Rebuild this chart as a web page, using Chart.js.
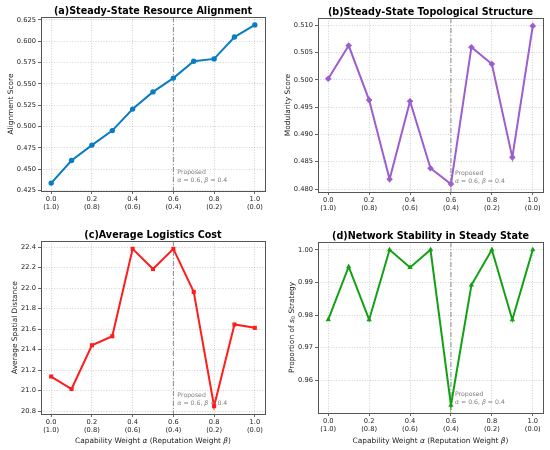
<!DOCTYPE html>
<html><head><meta charset="utf-8">
<script src="https://cdn.jsdelivr.net/npm/chart.js@4.4.1/dist/chart.umd.min.js"></script>
<style>
html,body{margin:0;padding:0;background:#fff;}
#wrap{position:relative;width:550px;height:450px;background:#fff;}
canvas{position:absolute;}
</style></head><body>
<div id="wrap">
<canvas id="ca" width="275" height="225" style="left:0px;top:0px;width:275px;height:225px"></canvas>
<canvas id="cb" width="275" height="225" style="left:275px;top:0px;width:275px;height:225px"></canvas>
<canvas id="cc" width="275" height="225" style="left:0px;top:225px;width:275px;height:225px"></canvas>
<canvas id="cd" width="275" height="225" style="left:275px;top:225px;width:275px;height:225px"></canvas>
</div>
<script>
// ---- data ----
const alphaValues = [0.0, 0.1, 0.2, 0.3, 0.4, 0.5, 0.6, 0.7, 0.8, 0.9, 1.0];
const xTickValues = [0.0, 0.2, 0.4, 0.6, 0.8, 1.0];
const xTickAlpha = ['0.0', '0.2', '0.4', '0.6', '0.8', '1.0'];
const xTickBeta = ['(1.0)', '(0.8)', '(0.6)', '(0.4)', '(0.2)', '(0.0)'];
const alignmentScore = [0.4337, 0.4601, 0.4782, 0.4952, 0.5204, 0.5405, 0.5567, 0.5764, 0.5792, 0.6048, 0.6190];
const modularityScore = [0.5002, 0.5063, 0.4963, 0.4818, 0.4961, 0.4838, 0.4809, 0.5060, 0.5029, 0.4858, 0.5099];
const spatialDistance = [21.138, 21.016, 21.443, 21.531, 22.384, 22.187, 22.384, 21.964, 20.849, 21.646, 21.613];
const s0Proportion = [0.9786, 0.9948, 0.9786, 1.0000, 0.9946, 1.0000, 0.9524, 0.9892, 1.0000, 0.9786, 1.0000];
const alignTicks = [0.425, 0.450, 0.475, 0.500, 0.525, 0.550, 0.575, 0.600, 0.625];
const modularityTicks = [0.480, 0.485, 0.490, 0.495, 0.500, 0.505, 0.510];
const distanceTicks = [20.8, 21.0, 21.2, 21.4, 21.6, 21.8, 22.0, 22.2, 22.4];
const stabilityTicks = [0.96, 0.97, 0.98, 0.99, 1.00];
const proposedAlpha = 0.6;
const titles = ['(a)Steady-State Resource Alignment', '(b)Steady-State Topological Structure', '(c)Average Logistics Cost', '(d)Network Stability in Steady State'];

const FONT = "'DejaVu Sans', sans-serif";
const TXT = '#1a1a1a';

function richWidth(ctx, segs, size) {
  let w = 0;
  for (const s of segs) {
    const fs = s.sub ? size * 0.7 : size;
    ctx.font = (s.i ? 'italic ' : '') + fs + 'px ' + FONT;
    w += ctx.measureText(s.t).width;
  }
  return w;
}
function drawRich(ctx, segs, x, y, size, align, color) {
  const w = richWidth(ctx, segs, size);
  let cx = align === 'center' ? x - w / 2 : x;
  ctx.fillStyle = color;
  ctx.textBaseline = 'middle';
  ctx.textAlign = 'left';
  for (const s of segs) {
    const fs = s.sub ? size * 0.7 : size;
    ctx.font = (s.i ? 'italic ' : '') + fs + 'px ' + FONT;
    ctx.fillText(s.t, cx, s.sub ? y + size * 0.25 : y);
    cx += ctx.measureText(s.t).width;
  }
}

function makePanel(id, cfg) {
  const pts = alphaValues.map((a, i) => ({x: a, y: cfg.values[i]}));
  const vmin = Math.min(...cfg.values), vmax = Math.max(...cfg.values);
  const m = (vmax - vmin) * 0.05;
  const W = 275, H = 225;
  const deco = {
    id: 'deco' + id,
    beforeDatasetsDraw(chart) {
      const ctx = chart.ctx, a = chart.chartArea;
      const px = chart.scales.x.getPixelForValue(proposedAlpha);
      ctx.save();
      ctx.strokeStyle = 'rgba(110,110,110,0.8)';
      ctx.lineWidth = 1;
      ctx.setLineDash([5, 2, 1, 2]);
      ctx.beginPath(); ctx.moveTo(px, a.top); ctx.lineTo(px, a.bottom); ctx.stroke();
      ctx.restore();
    },
    afterDraw(chart) {
      const ctx = chart.ctx, a = chart.chartArea;
      ctx.save();
      ctx.strokeStyle = '#555'; ctx.lineWidth = 1; ctx.setLineDash([]);
      ctx.strokeRect(Math.round(a.left) + 0.5, Math.round(a.top) + 0.5, Math.round(a.right - a.left), Math.round(a.bottom - a.top));
      // title
      ctx.fillStyle = '#000';
      ctx.font = 'bold 9.6px ' + FONT;
      ctx.textAlign = 'center'; ctx.textBaseline = 'middle';
      ctx.fillText(cfg.title, (a.left + a.right) / 2, a.top - 6);
      // y title
      ctx.save();
      ctx.translate(cfg.yTitleX, (a.top + a.bottom) / 2);
      ctx.rotate(-Math.PI / 2);
      drawRich(ctx, cfg.yTitle, 0, 0, 7.4, 'center', TXT);
      ctx.restore();
      // x title
      if (cfg.xTitle) {
        drawRich(ctx, [
          {t: 'Capability Weight '}, {t: 'α', i: true}, {t: ' (Reputation Weight '}, {t: 'β', i: true}, {t: ')'}
        ], (a.left + a.right) / 2, 216, 7.4, 'center', TXT);
      }
      // annotation
      const px = chart.scales.x.getPixelForValue(proposedAlpha) + 4;
      ctx.fillStyle = '#808080';
      ctx.font = '6.2px ' + FONT;
      ctx.textAlign = 'left'; ctx.textBaseline = 'middle';
      ctx.fillText('Proposed', px, a.bottom - 18.3);
      drawRich(ctx, [{t: 'α', i: true}, {t: ' = 0.6, '}, {t: 'β', i: true}, {t: ' = 0.4'}], px, a.bottom - 10.6, 6.2, 'left', '#808080');
      ctx.restore();
    }
  };
  const gridOpts = {color: 'rgba(150,150,150,0.55)', lineWidth: 0.8, drawTicks: true, tickLength: 3, tickColor: '#555', tickWidth: 0.9, tickBorderDash: []};
  return new Chart(document.getElementById(id), {
    type: 'line',
    data: {datasets: [{
      data: pts,
      borderColor: cfg.color, backgroundColor: cfg.color,
      borderWidth: 2, pointStyle: cfg.marker, pointRadius: cfg.radius,
      pointBorderWidth: 0, tension: 0
    }]},
    options: {
      responsive: false, animation: false, devicePixelRatio: 1,
      layout: {padding: {left: 0, top: cfg.area[2], right: W - cfg.area[1], bottom: 0}},
      plugins: {legend: {display: false}, tooltip: {enabled: false}, title: {display: false}},
      scales: {
        x: {
          type: 'linear', min: -0.05, max: 1.05,
          afterBuildTicks: s => { s.ticks = xTickValues.map(v => ({value: v})); },
          afterFit: s => { s.height = H - cfg.area[3]; },
          ticks: {
            callback: (v) => { const k = xTickValues.findIndex(t => Math.abs(t - v) < 1e-9); return k < 0 ? '' : [xTickAlpha[k], xTickBeta[k]]; },
            font: {family: FONT, size: 6.7}, color: TXT, padding: 1.5, maxRotation: 0, autoSkip: false
          },
          grid: gridOpts,
          border: {display: false, dash: [1, 1.6]}
        },
        y: {
          type: 'linear', min: vmin - m, max: vmax + m,
          afterBuildTicks: s => { s.ticks = cfg.ticks.map(v => ({value: v})); },
          afterFit: s => { s.width = cfg.area[0]; },
          ticks: {
            callback: v => v.toFixed(cfg.dec),
            font: {family: FONT, size: 6.7}, color: TXT, padding: 2, autoSkip: false
          },
          grid: gridOpts,
          border: {display: false, dash: [1, 1.6]}
        }
      }
    },
    plugins: [deco]
  });
}

makePanel('ca', {values: alignmentScore, ticks: alignTicks, dec: 3, color: '#0a7cc1', marker: 'circle', radius: 2.7,
  title: titles[0], yTitle: [{t: 'Alignment Score'}], yTitleX: 11, xTitle: false, area: [41, 265, 17, 191]});
makePanel('cb', {values: modularityScore, ticks: modularityTicks, dec: 3, color: '#9d5dce', marker: 'rectRot', radius: 3.3,
  title: titles[1], yTitle: [{t: 'Modularity Score'}], yTitleX: 13.3, xTitle: false, area: [43, 268, 18, 192]});
makePanel('cc', {values: spatialDistance, ticks: distanceTicks, dec: 1, color: '#ff1c1c', marker: 'rect', radius: 2.9,
  title: titles[2], yTitle: [{t: 'Average Spatial Distance'}], yTitleX: 15, xTitle: true, area: [41, 265, 16, 189]});
makePanel('cd', {values: s0Proportion, ticks: stabilityTicks, dec: 2, color: '#14a014', marker: 'triangle', radius: 3.1,
  title: titles[3], yTitle: [{t: 'Proportion of '}, {t: 's', i: true}, {t: '0', sub: true}, {t: ' Strategy'}], yTitleX: 16.7, xTitle: true, area: [43, 268, 17, 188]});
</script>
</body></html>
